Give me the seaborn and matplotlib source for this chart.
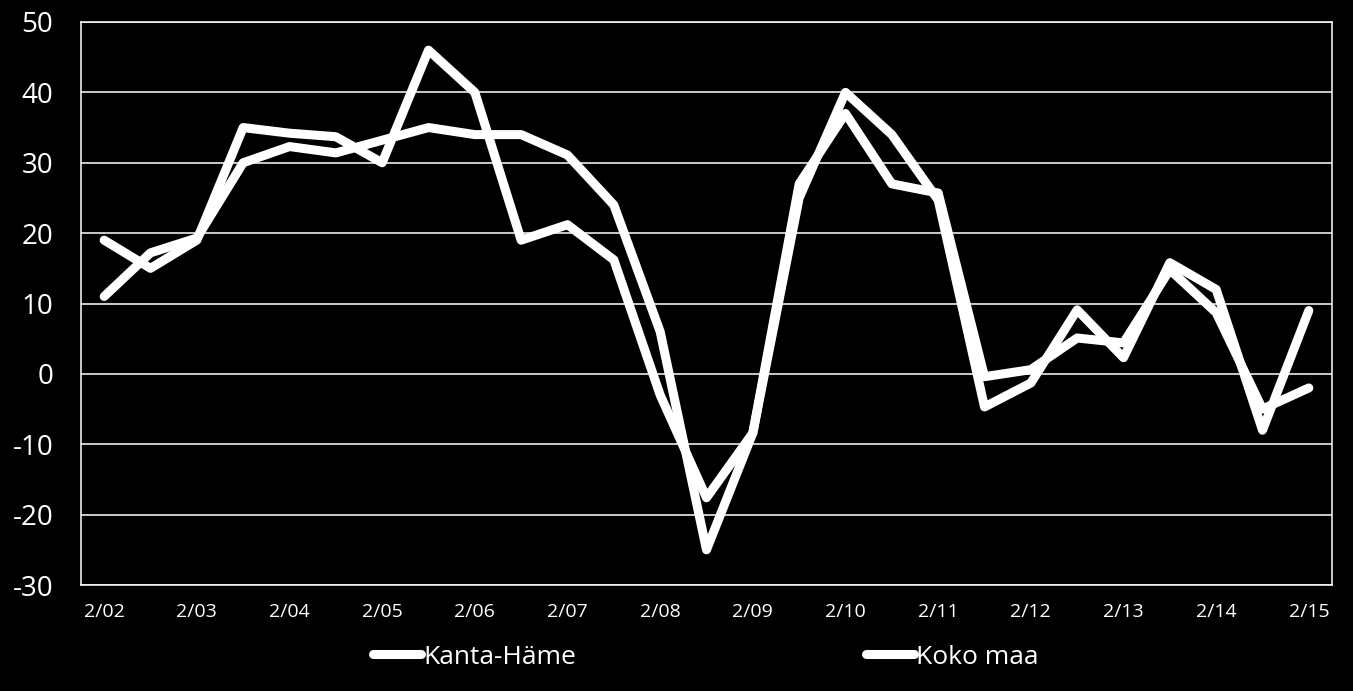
import matplotlib
matplotlib.use("Agg")
import matplotlib.pyplot as plt
import seaborn as sns
import pandas as pd

periods = ["2/02", "8/02", "2/03", "8/03", "2/04", "8/04", "2/05", "8/05", "2/06", "8/06",
           "2/07", "8/07", "2/08", "8/08", "2/09", "8/09", "2/10", "8/10", "2/11", "8/11",
           "2/12", "8/12", "2/13", "8/13", "2/14", "8/14", "2/15"]
kanta_hame = [19, 15, 19, 35, 34.2, 33.7, 30, 46, 40, 19, 21.2, 16.2, -3, -17.6, -8.4,
              25, 40, 34, 24.7, -4.7, -1.3, 9.1, 2.3, 15.8, 12, -8, 9]
koko_maa = [11, 17.2, 19.3, 30, 32.3, 31.4, 33.2, 35, 34, 34, 31.1, 24, 6, -25, -8.4,
            27, 37, 27, 25.7, -0.4, 0.6, 5.1, 4.4, 14.8, 8.7, -5, -2]
series_names = ["Kanta-Häme", "Koko maa"]
y_ticks = [-30, -20, -10, 0, 10, 20, 30, 40, 50]

sns.set_theme(style="dark")
plt.rcParams["font.family"] = ["Open Sans", "DejaVu Sans"]
plt.rcParams["lines.solid_capstyle"] = "round"
plt.rcParams["lines.solid_joinstyle"] = "round"

df = pd.DataFrame({
    "idx": list(range(len(periods))) * 2,
    "period": periods * 2,
    "value": kanta_hame + koko_maa,
    "series": [series_names[0]] * len(periods) + [series_names[1]] * len(periods),
})

fig = plt.figure(figsize=(13.53, 6.91), dpi=100, facecolor="black")
ax = fig.add_axes([81 / 1353, 1 - 585 / 691, (1332 - 81) / 1353, (585 - 22) / 691])
ax.set_facecolor("black")

sns.lineplot(data=df, x="idx", y="value", hue="series", sort=False,
             palette={series_names[0]: "white", series_names[1]: "white"},
             linewidth=6.5, ax=ax, legend=False)

ax.set_xlim(-0.5, len(periods) - 0.5)
ax.set_ylim(-30, 50)
ax.set_yticks(y_ticks)
ax.set_yticklabels([str(v) for v in y_ticks])
xt = [i for i, p in enumerate(periods) if p.startswith("2/")]
ax.set_xticks(xt)
ax.set_xticklabels([periods[i] for i in xt])
ax.set_xlabel("")
ax.set_ylabel("")
ax.grid(False)
ax.yaxis.grid(True, color="white", linewidth=1.1)
ax.set_axisbelow(True)
for s in ax.spines.values():
    s.set_visible(True)
    s.set_color("white")
    s.set_linewidth(1.1)
ax.tick_params(axis="y", colors="white", labelsize=20, length=0, pad=20)
ax.tick_params(axis="x", colors="white", labelsize=14, length=0, pad=13)

handles = ax.get_lines()[:2]
leg = fig.legend(handles, series_names, loc="center", ncol=2,
                 bbox_to_anchor=(706 / 1353, 1 - 657 / 691), frameon=False,
                 fontsize=19, handlelength=1.8, handletextpad=0.1,
                 columnspacing=11.0, labelcolor="white")
for h in leg.get_lines():
    h.set_linewidth(6.5)
    h.set_solid_capstyle("round")

fig.savefig("out.png", dpi=100, facecolor="black")
